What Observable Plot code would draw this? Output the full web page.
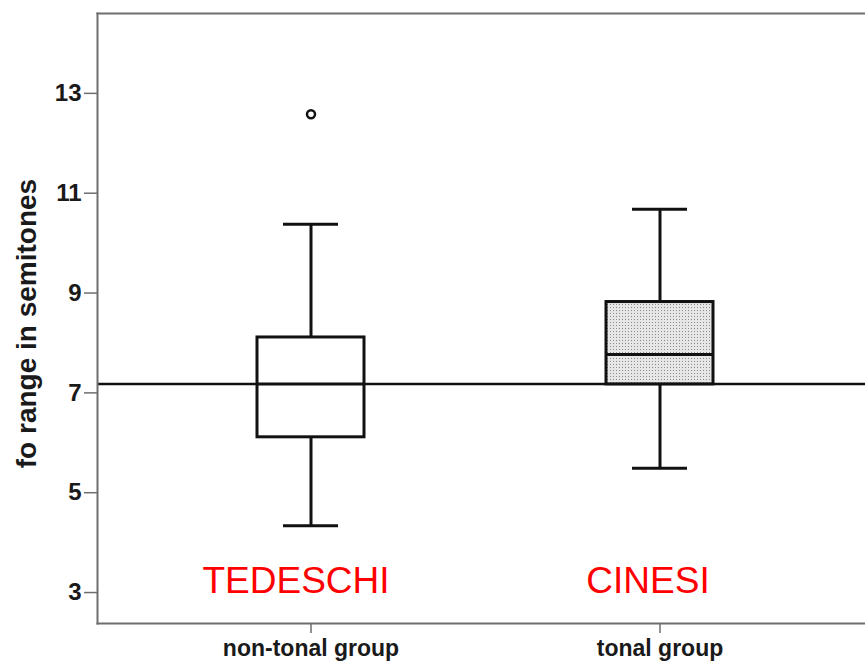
<!DOCTYPE html>
<html>
<head>
<meta charset="utf-8">
<script src="https://cdn.jsdelivr.net/npm/d3@7"></script>
<script src="https://cdn.jsdelivr.net/npm/@observablehq/plot@0.6"></script>
<style>
  html, body { margin: 0; padding: 0; background: #fff; overflow: hidden; }
  #chart svg { display: block; }
</style>
</head>
<body>
<div id="chart"></div>
<script>
// Box-plot summaries of f0 range (semitones) per speaker group
const groups = ["non-tonal group", "tonal group"];
const groupNames = ["TEDESCHI", "CINESI"];
const whiskerLow = [4.34, 5.49];
const quartile1 = [6.11, 7.17];
const medians = [7.18, 7.77];
const quartile3 = [8.11, 8.82];
const whiskerHigh = [10.38, 10.68];

// Outliers beyond the whiskers
const outlierGroups = ["non-tonal group"];
const outlierValues = [12.58];

// Horizontal reference level
const referenceLevel = [7.18];

const yTicks = [3, 5, 7, 9, 11, 13];

const rows = groups.map((g, i) => ({
  group: g,
  name: groupNames[i],
  lo: whiskerLow[i],
  q1: quartile1[i],
  med: medians[i],
  q3: quartile3[i],
  hi: whiskerHigh[i]
}));
const outliers = outlierGroups.map((g, i) => ({group: g, value: outlierValues[i]}));

const ink = "#111";
const axisGray = "#6e6e6e";
const boxWidth = 3;

// Dotted hatch used for the tonal group's box
const patternDefs = () => {
  const defs = d3.create("svg:defs");
  const p = defs.append("pattern")
    .attr("id", "dots")
    .attr("patternUnits", "userSpaceOnUse")
    .attr("width", 3)
    .attr("height", 3);
  p.append("rect").attr("width", 3).attr("height", 3).attr("fill", "#e6e6e6");
  p.append("rect").attr("x", 1).attr("y", 1).attr("width", 1).attr("height", 1).attr("fill", "#8c8c8c");
  return defs.node();
};

const nameLabel = (group, dx) => Plot.text(rows.filter(d => d.group === group), {
  x: "group", y: () => 3, text: "name", lineAnchor: "bottom",
  dx, fill: "#ff0000", fontSize: 37
});

const chart = Plot.plot({
  width: 865,
  height: 661,
  marginLeft: 97,
  marginRight: 0,
  marginTop: 13,
  marginBottom: 38,
  style: {fontFamily: "Liberation Sans, Arial, sans-serif", background: "#fff"},
  x: {type: "band", domain: groups, range: [97, 873], paddingInner: 0.694, paddingOuter: 0.456},
  y: {domain: [2.38, 14.6]},
  marks: [
    patternDefs,
    // reference level
    Plot.ruleY(referenceLevel, {stroke: ink, strokeWidth: 2.5}),
    // whiskers
    Plot.ruleX(rows, {x: "group", y1: "q3", y2: "hi", stroke: ink, strokeWidth: boxWidth}),
    Plot.ruleX(rows, {x: "group", y1: "lo", y2: "q1", stroke: ink, strokeWidth: boxWidth}),
    Plot.tickY(rows, {x: "group", y: "hi", stroke: ink, strokeWidth: boxWidth, insetLeft: 26, insetRight: 26}),
    Plot.tickY(rows, {x: "group", y: "lo", stroke: ink, strokeWidth: boxWidth, insetLeft: 26, insetRight: 26}),
    // boxes
    Plot.barY(rows.filter(d => d.group === "non-tonal group"),
      {x: "group", y1: "q1", y2: "q3", fill: "white", stroke: ink, strokeWidth: boxWidth}),
    Plot.barY(rows.filter(d => d.group === "tonal group"),
      {x: "group", y1: "q1", y2: "q3", fill: "url(#dots)", stroke: ink, strokeWidth: boxWidth}),
    // medians
    Plot.tickY(rows, {x: "group", y: "med", stroke: ink, strokeWidth: boxWidth}),
    // outliers
    Plot.dot(outliers, {x: "group", y: "value", r: 4, stroke: ink, strokeWidth: 2.5, fill: "white"}),
    // axes frame (left, top, bottom)
    Plot.frame({anchor: "left", stroke: axisGray, strokeWidth: 2}),
    Plot.frame({anchor: "top", stroke: axisGray, strokeWidth: 2}),
    Plot.frame({anchor: "bottom", stroke: axisGray, strokeWidth: 2}),
    Plot.axisY(yTicks, {
      ticks: yTicks, tickSize: 13, tickPadding: 3, stroke: axisGray, strokeWidth: 1.5,
      fontSize: 24, fontWeight: "bold", fill: "#1a1a1a", label: null
    }),
    Plot.axisX({
      tickSize: 10, tickPadding: 6, stroke: axisGray, strokeWidth: 1.5,
      fontSize: 23, fontWeight: "bold", fill: "#1a1a1a", label: null
    }),
    // group names
    nameLabel("non-tonal group", -15),
    nameLabel("tonal group", -12),
    // y axis title
    Plot.text(["fo range in semitones"], {
      frameAnchor: "left", textAnchor: "middle", rotate: -90, dx: -70, dy: 5,
      fontSize: 28, fontWeight: "bold", fill: "#1a1a1a"
    })
  ]
});

document.getElementById("chart").appendChild(chart);
</script>
</body>
</html>
